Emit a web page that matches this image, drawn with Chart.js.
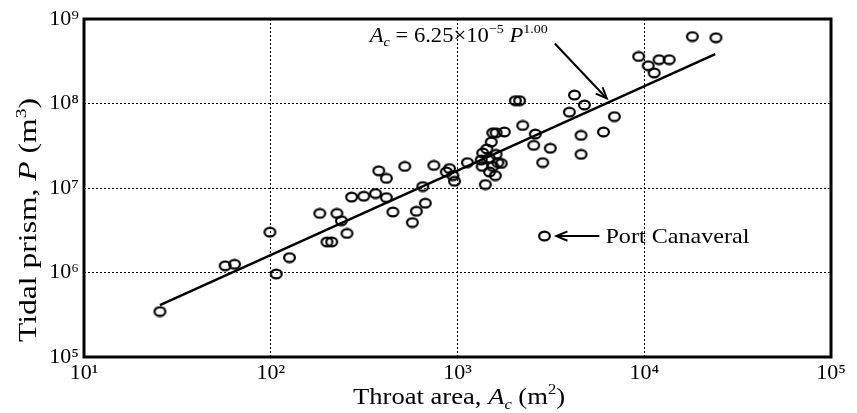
<!DOCTYPE html>
<html>
<head>
<meta charset="utf-8">
<script src="https://cdn.jsdelivr.net/npm/chart.js@4"></script>
<style>
  html, body { margin: 0; padding: 0; background: #fff; }
  #wrap { width: 857px; height: 413px; }
</style>
</head>
<body>
<div id="wrap"><canvas id="prismChart" width="857" height="413"></canvas></div>
<script>
// DATA
const throatArea = [25.5, 57, 64, 107, 126, 99, 183, 226, 239, 256, 200, 212, 271, 315, 364,
  379, 416, 416, 451, 522, 573, 602, 672, 652, 747, 871, 906, 944, 964, 1130,
  1365, 1340, 1355, 1410, 1436, 1480, 1515, 1545, 1610, 1780, 1610, 1545, 1645, 1715, 1595, 1484,
  2040, 2150, 2235, 2610, 2560, 2860, 3140, 3970, 4230, 4780, 4585, 4585, 6050, 6920,
  9330, 10500, 11300, 12000, 13600, 18100, 24200];
const tidalPrism = [3.45e5, 1.2e6, 1.25e6, 9.6e5, 1.5e6, 3.0e6, 5.0e6, 5.0e6, 4.1e6, 2.9e6, 2.3e6, 2.3e6, 7.8e6, 8.0e6, 8.6e6,
  1.6e7, 1.3e7, 7.7e6, 5.2e6, 1.8e7, 3.9e6, 5.3e6, 6.6e6, 1.04e7, 1.85e7, 1.55e7, 1.7e7, 1.4e7, 1.2e7, 2.0e7,
  2.6e7, 2.15e7, 1.8e7, 1.1e7, 2.9e7, 2.25e7, 3.5e7, 4.5e7, 4.5e7, 4.6e7, 2.5e7, 1.8e7, 2.0e7, 1.95e7, 1.4e7, 1.55e7,
  1.08e8, 1.08e8, 5.5e7, 4.35e7, 3.2e7, 2.0e7, 2.95e7, 7.9e7, 1.26e8, 9.6e7, 4.2e7, 2.5e7, 4.6e7, 7.0e7,
  3.6e8, 2.8e8, 2.3e8, 3.3e8, 3.3e8, 6.2e8, 6.0e8];
const canaveralArea = [2920];
const canaveralPrism = [2.7e6];
const fitArea = [25.5, 24000];
const fitPrism = [4.1e5, 3.85e8];
const fitArrowTip = [6300, 1.0e8];

const xTickValues = [1e1, 1e2, 1e3, 1e4, 1e5];
const xTickLabels = ["10\u00B9", "10\u00B2", "10\u00B3", "10\u2074", "10\u2075"];
const yTickValues = [1e5, 1e6, 1e7, 1e8, 1e9];
const yTickLabels = ["10\u2075", "10\u2076", "10\u2077", "10\u2078", "10\u2079"];

const SERIF = '"Liberation Serif", "Times New Roman", serif';

// open oval marker like the scanned figure
function makeMarker() {
    const c = document.createElement("canvas");
    c.width = 15; c.height = 12;
    const g = c.getContext("2d");
    g.strokeStyle = "#000";
    g.lineWidth = 2.2;
    g.beginPath();
    g.ellipse(7.5, 6, 5.4, 4.3, 0, 0, Math.PI * 2);
    g.stroke();
    return c;
}
const marker = makeMarker();

// text with italic / super / subscript pieces
function partFont(p, size) {
    const small = p[1].includes("sup") || p[1].includes("sub");
    const fs = small ? size * 0.62 : size;
    return (p[1].includes("i") ? "italic " : "") + fs + "px " + SERIF;
}

function richWidth(ctx, parts, size) {
    let w = 0;
    parts.forEach(p => {
        ctx.font = partFont(p, size);
        w += ctx.measureText(p[0]).width;
    });
    return w;
}

// draws the pieces, stretched along the line so they span "span" pixels
function drawRich(ctx, parts, x, y, size, align, span) {
    const natural = richWidth(ctx, parts, size);
    const k = span ? span / natural : 1;
    ctx.save();
    ctx.translate(x, y);
    ctx.scale(k, 1);
    let cx = align === "center" ? -natural / 2 : 0;
    ctx.textBaseline = "alphabetic";
    ctx.textAlign = "left";
    ctx.fillStyle = "#000";
    parts.forEach(p => {
        const sup = p[1].includes("sup");
        const sub = p[1].includes("sub");
        ctx.font = partFont(p, size);
        const dy = sup ? -size * 0.42 : (sub ? size * 0.2 : 0);
        ctx.fillText(p[0], cx, dy);
        cx += ctx.measureText(p[0]).width;
    });
    ctx.restore();
}

function arrow(ctx, x1, y1, x2, y2) {
    const ang = Math.atan2(y2 - y1, x2 - x1);
    ctx.save();
    ctx.strokeStyle = "#000";
    ctx.lineWidth = 2;
    ctx.beginPath();
    ctx.moveTo(x1, y1);
    ctx.lineTo(x2, y2);
    ctx.stroke();
    ctx.beginPath();
    ctx.moveTo(x2 - 12 * Math.cos(ang - 0.4), y2 - 12 * Math.sin(ang - 0.4));
    ctx.lineTo(x2, y2);
    ctx.lineTo(x2 - 12 * Math.cos(ang + 0.4), y2 - 12 * Math.sin(ang + 0.4));
    ctx.stroke();
    ctx.restore();
}

const decorPlugin = {
    id: "decor",
    afterDraw(chart) {
        const ctx = chart.ctx;
        const a = chart.chartArea;
        const xs = chart.scales.x, ys = chart.scales.y;

        // heavy frame
        ctx.save();
        ctx.strokeStyle = "#000";
        ctx.lineWidth = 3;
        ctx.strokeRect(a.left, a.top, a.right - a.left, a.bottom - a.top);

        // axis titles
        drawRich(ctx, [["Throat area, ", ""], ["A", "i"], ["c", "isub"], [" (m", ""], ["2", "sup"], [")", ""]],
            459, 404, 24, "center", 212);
        ctx.save();
        ctx.translate(36, 220);
        ctx.rotate(-Math.PI / 2);
        drawRich(ctx, [["Tidal prism, ", ""], ["P", "i"], [" (m", ""], ["3", "sup"], [")", ""]],
            0, 0, 25, "center", 244);
        ctx.restore();

        // equation and arrow to the fitted line
        const tx = xs.getPixelForValue(fitArrowTip[0]);
        const ty = ys.getPixelForValue(fitArrowTip[1]);
        drawRich(ctx, [["A", "i"], ["c", "isub"], [" = 6.25\u00D710", ""], ["\u22125", "sup"], [" ", ""], ["P", "i"], ["1.00", "sup"]],
            tx - 237, ty - 62, 21, "left", 178);
        arrow(ctx, tx - 52, ty - 60, tx, ty - 5);

        // Port Canaveral note
        const px = xs.getPixelForValue(canaveralArea[0]);
        const py = ys.getPixelForValue(canaveralPrism[0]);
        arrow(ctx, px + 55, py, px + 12, py);
        drawRich(ctx, [["Port Canaveral", ""]], px + 61, py + 7, 22, "left", 144);
        ctx.restore();
    }
};

const ctx = document.getElementById("prismChart").getContext("2d");

new Chart(ctx, {
    type: "scatter",
    data: {
        datasets: [
            {
                label: "Inlets",
                data: throatArea.map((v, i) => ({ x: v, y: tidalPrism[i] })),
                pointStyle: marker,
                pointRadius: 6,
                order: 1
            },
            {
                label: "Port Canaveral",
                data: canaveralArea.map((v, i) => ({ x: v, y: canaveralPrism[i] })),
                pointStyle: marker,
                pointRadius: 6,
                order: 1
            },
            {
                type: "line",
                label: "Fit",
                data: fitArea.map((v, i) => ({ x: v, y: fitPrism[i] })),
                borderColor: "#000",
                borderWidth: 2.5,
                pointRadius: 0,
                fill: false,
                order: 2
            }
        ]
    },
    options: {
        responsive: false,
        animation: false,
        devicePixelRatio: 1,
        layout: { padding: { top: 19, right: 26, left: 0, bottom: 0 } },
        plugins: {
            legend: { display: false },
            tooltip: { enabled: false }
        },
        scales: {
            x: {
                type: "logarithmic",
                min: 1e1,
                max: 1e5,
                afterBuildTicks: s => { s.ticks = xTickValues.map(v => ({ value: v })); },
                afterFit: s => { s.height = 56; },
                ticks: {
                    callback: (v, i) => xTickLabels[i],
                    color: "#000",
                    font: { family: SERIF, size: 22 },
                    padding: 3,
                    maxRotation: 0,
                    autoSkip: false
                },
                grid: { color: "#000", lineWidth: 1, drawTicks: false },
                border: { display: false, dash: [2, 2] }
            },
            y: {
                type: "logarithmic",
                min: 1e5,
                max: 1e9,
                afterBuildTicks: s => { s.ticks = yTickValues.map(v => ({ value: v })); },
                afterFit: s => { s.width = 84; },
                ticks: {
                    callback: (v, i) => yTickLabels[i],
                    color: "#000",
                    font: { family: SERIF, size: 22 },
                    padding: 5,
                    autoSkip: false
                },
                grid: { color: "#000", lineWidth: 1, drawTicks: false },
                border: { display: false, dash: [2, 2] }
            }
        }
    },
    plugins: [decorPlugin]
});
</script>
</body>
</html>
